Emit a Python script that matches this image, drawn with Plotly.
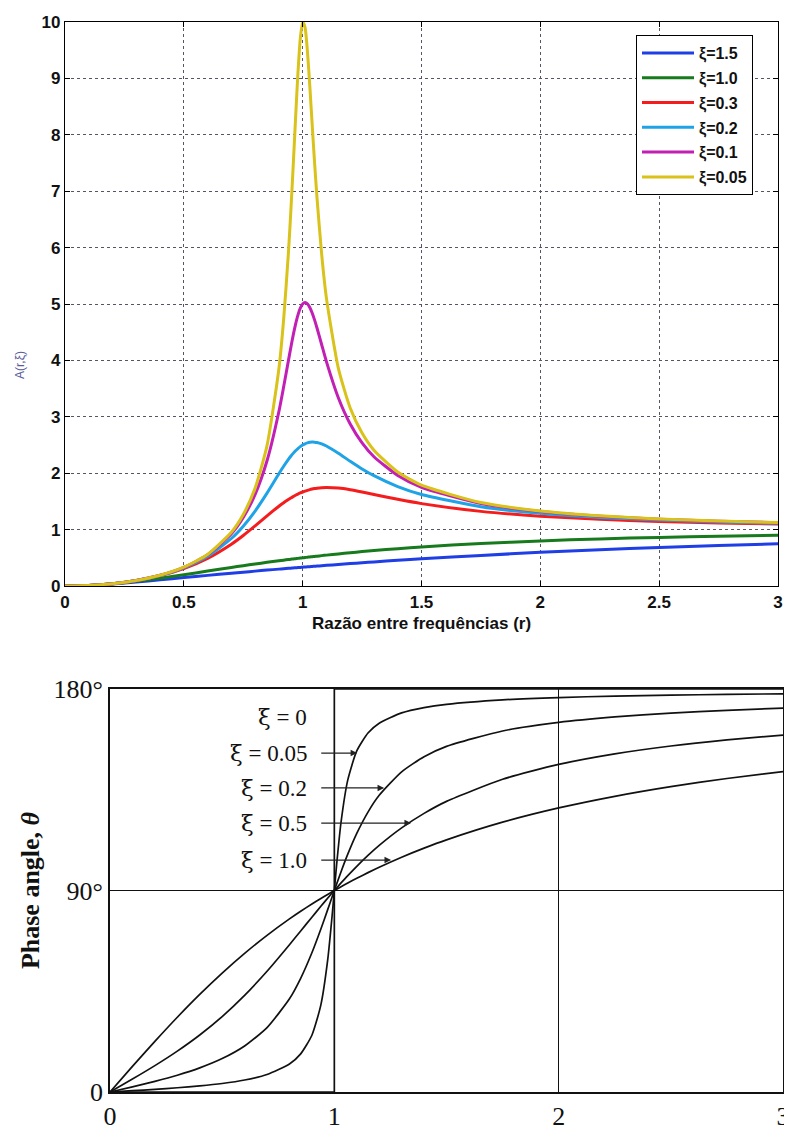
import plotly.graph_objects as go

# ---------------- Top chart data: amplitude A(r, xi) ----------------
R_AMP = [0, 0.1, 0.2, 0.3, 0.4, 0.5, 0.6, 0.7, 0.75, 0.8, 0.85, 0.9, 0.92, 0.94, 0.95,
         0.96, 0.97, 0.98, 0.99, 1.0, 1.01, 1.02, 1.03, 1.04, 1.05, 1.06, 1.08, 1.1,
         1.15, 1.2, 1.25, 1.3, 1.4, 1.5, 1.75, 2.0, 2.25, 2.5, 2.75, 3.0]

A_15 = [0, 0.0097, 0.0353, 0.0703, 0.1092, 0.1491, 0.1884, 0.2267, 0.2454, 0.2637, 0.2817,
        0.2993, 0.3062, 0.3131, 0.3165, 0.3199, 0.3233, 0.3266, 0.3300, 0.3333, 0.3367,
        0.3400, 0.3433, 0.3465, 0.3498, 0.3531, 0.3595, 0.3659, 0.3817, 0.3970, 0.4121,
        0.4267, 0.4549, 0.4818, 0.5429, 0.5963, 0.6426, 0.6827, 0.7174, 0.7474]
A_10 = [0, 0.0099, 0.0385, 0.0826, 0.1379, 0.2000, 0.2647, 0.3289, 0.3600, 0.3902, 0.4194,
        0.4475, 0.4584, 0.4691, 0.4744, 0.4796, 0.4848, 0.4899, 0.4950, 0.5000, 0.5050,
        0.5099, 0.5148, 0.5196, 0.5244, 0.5291, 0.5384, 0.5475, 0.5694, 0.5902, 0.6098,
        0.6283, 0.6622, 0.6923, 0.7538, 0.8000, 0.8351, 0.8621, 0.8832, 0.9000]
A_03 = [0, 0.0101, 0.0413, 0.0970, 0.1832, 0.3095, 0.4903, 0.7417, 0.8962, 1.0667, 1.2444,
        1.4150, 1.4772, 1.5343, 1.5607, 1.5854, 1.6084, 1.6296, 1.6491, 1.6667, 1.6824,
        1.6963, 1.7084, 1.7187, 1.7273, 1.7342, 1.7435, 1.7470, 1.7364, 1.7066, 1.6667,
        1.6228, 1.5365, 1.4608, 1.3233, 1.2380, 1.1826, 1.1447, 1.1176, 1.0976]
A_02 = [0, 0.0101, 0.0415, 0.0981, 0.1871, 0.3221, 0.5267, 0.8422, 1.0604, 1.3287, 1.6462,
        1.9899, 2.1225, 2.2449, 2.3005, 2.3515, 2.3973, 2.4376, 2.4719, 2.5000, 2.5219,
        2.5376, 2.5473, 2.5514, 2.5501, 2.5441, 2.5196, 2.4818, 2.3541, 2.2115, 2.0761,
        1.9560, 1.7635, 1.6228, 1.4061, 1.2883, 1.2167, 1.1695, 1.1365, 1.1126]
A_01 = [0, 0.0101, 0.0416, 0.0987, 0.1896, 0.3304, 0.5529, 0.9265, 1.2162, 1.6246, 2.2201,
        3.0948, 3.5313, 3.9960, 4.2260, 4.4438, 4.6396, 4.8030, 4.9251, 5.0000, 5.0251,
        5.0029, 4.9387, 4.8407, 4.7180, 4.5787, 4.2779, 3.9784, 3.3386, 2.8731, 2.5384,
        2.2920, 1.9600, 1.7503, 1.4639, 1.3216, 1.2386, 1.1851, 1.1484, 1.1219]
A_005 = [0, 0.0101, 0.0417, 0.0989, 0.1903, 0.3326, 0.5600, 0.9519, 1.2672, 1.7355, 2.4894,
         3.8527, 4.7273, 5.9056, 6.6297, 7.4353, 8.2833, 9.0861, 9.7059, 10.0000, 9.9058,
         9.4832, 8.8660, 8.1822, 7.5133, 6.9004, 5.8796, 5.1040, 3.8624, 3.1574, 2.7116,
         2.4069, 2.0203, 1.7872, 1.4795, 1.3304, 1.2442, 1.1891, 1.1514, 1.1242]

AMP_NAMES = ["ξ=1.5", "ξ=1.0", "ξ=0.3", "ξ=0.2", "ξ=0.1", "ξ=0.05"]
AMP_SERIES = [A_15, A_10, A_03, A_02, A_01, A_005]
AMP_COLORS = ["#1f3ee6", "#177a1d", "#f41c1c", "#1ea3e6", "#c21fb4", "#d9c21a"]

X_TICKS_TOP = [0, 0.5, 1, 1.5, 2, 2.5, 3]
X_TICKTEXT_TOP = ["0", "0.5", "1", "1.5", "2", "2.5", "3"]
Y_TICKS_TOP = [0, 1, 2, 3, 4, 5, 6, 7, 8, 9, 10]

# ---------------- Bottom chart data: phase angle theta (deg) ----------------
R_PH = [0, 0.1, 0.2, 0.3, 0.4, 0.5, 0.6, 0.7, 0.8, 0.85, 0.9, 0.94, 0.97, 0.99, 1.0,
        1.01, 1.03, 1.06, 1.1, 1.15, 1.2, 1.3, 1.4, 1.5, 1.75, 2.0, 2.25, 2.5, 2.75, 3.0]
P_005 = [0, 0.58, 1.19, 1.89, 2.73, 3.81, 5.36, 7.82, 12.53, 17.03, 25.35, 38.92, 58.65,
         78.63, 90.0, 101.26, 120.59, 139.39, 152.35, 160.37, 164.74, 169.33, 171.70,
         173.16, 175.15, 176.19, 176.83, 177.27, 177.60, 177.85]
P_02 = [0, 2.31, 4.76, 7.51, 10.78, 14.93, 20.56, 28.77, 41.63, 50.77, 62.18, 72.80, 81.34,
        87.12, 90.0, 92.85, 98.41, 106.25, 115.51, 125.03, 132.51, 143.00, 149.74, 154.36,
        161.26, 165.07, 167.51, 169.22, 170.48, 171.47]
P_05 = [0, 5.77, 11.77, 18.25, 25.46, 33.69, 43.15, 53.92, 65.77, 71.92, 78.08, 82.94, 86.51,
        88.85, 90.0, 91.14, 93.38, 96.65, 100.81, 105.67, 110.14, 117.96, 124.44, 129.81,
        139.69, 146.31, 151.02, 154.54, 157.26, 159.44]
P_10 = [0, 11.42, 22.62, 33.40, 43.60, 53.13, 61.93, 69.98, 77.32, 80.73, 83.97, 86.46, 88.26,
        89.42, 90.0, 90.57, 91.69, 93.34, 95.45, 97.98, 100.39, 104.86, 108.92, 112.62,
        120.51, 126.87, 132.07, 136.40, 140.03, 143.13]
R_STEP = [0, 1, 1, 3]
P_0 = [0, 0, 180, 180]

PHASE_VALUES = ["0", "0.05", "0.2", "0.5", "1.0"]
LABEL_Y = [167.5, 151.4, 135.8, 120.1, 103.6]
ARROW_HEAD_X = [None, 1.102, 1.222, 1.342, 1.253]

X_TICKS_BOT = [0, 1, 2, 3]
Y_TICKS_BOT = [0, 90, 180]
Y_TICKTEXT_BOT = ["0", "90°", "180°"]

# ---------------- Figure ----------------
# The page body has an 8px margin, so the figure is 784x1138 and sits at (8, 8).
W, H = 784, 1138
OFF = 8


def fx(px):
    return (px - OFF) / W


def fy(py):
    return (H + OFF - py) / H


fig = go.Figure()

for name, ys, color in zip(AMP_NAMES, AMP_SERIES, AMP_COLORS):
    fig.add_trace(go.Scatter(
        x=R_AMP, y=ys, mode="lines", name=name, legendgroup=name,
        line=dict(color=color, width=3, shape="spline", smoothing=0.6),
        xaxis="x", yaxis="y"))

for ys in [P_005, P_02, P_05, P_10]:
    fig.add_trace(go.Scatter(
        x=R_PH, y=ys, mode="lines", showlegend=False,
        line=dict(color="#111111", width=1.7, shape="spline", smoothing=0.6),
        xaxis="x2", yaxis="y2"))
fig.add_trace(go.Scatter(
    x=R_STEP, y=P_0, mode="lines", showlegend=False,
    line=dict(color="#111111", width=1.7), xaxis="x2", yaxis="y2"))

SERIF = "Liberation Serif"
XI = "<span style=\"font-family:'DejaVu Serif'\">ξ</span>"
annotations = []
for val, y, hx in zip(PHASE_VALUES, LABEL_Y, ARROW_HEAD_X):
    annotations.append(dict(
        x=0.885, y=y, xref="x2", yref="y2", text=XI + " = " + val, showarrow=False,
        xanchor="right", yanchor="middle",
        font=dict(family=SERIF, size=23, color="#111111")))
    if hx is not None:
        annotations.append(dict(
            x=hx, y=y, xref="x2", yref="y2", ax=0.935, ay=y, axref="x2", ayref="y2",
            text="", showarrow=True, arrowhead=2, arrowsize=1.1, arrowwidth=1.2,
            arrowcolor="#222222"))

# y-axis title of top chart (placed like the original, below centre)
annotations.append(dict(
    x=fx(20), y=fy(365), xref="paper", yref="paper", text="A(r,ξ)",
    textangle=-90, showarrow=False, xanchor="center", yanchor="middle",
    font=dict(family="Liberation Sans", size=12, color="#5a5a9e")))

top_font = dict(family="Liberation Sans", size=17, color="#111111", weight="bold")
fig.update_layout(
    width=W, height=H, autosize=False,
    margin=dict(l=0, r=0, t=0, b=0),
    paper_bgcolor="white", plot_bgcolor="white",
    showlegend=True,
    legend=dict(x=fx(636), y=fy(35), xanchor="left", yanchor="top",
                bgcolor="white", bordercolor="black", borderwidth=1,
                font=dict(family="Liberation Sans", size=16, color="#111111", weight="bold"),
                traceorder="grouped", tracegroupgap=1, itemwidth=52),
    xaxis=dict(domain=[fx(65), fx(778)], range=[0, 3], tickvals=X_TICKS_TOP,
               ticktext=X_TICKTEXT_TOP, ticks="inside", ticklen=5, tickcolor="black",
               showline=True, linecolor="black", linewidth=1.3, mirror="ticks",
               showgrid=True, gridcolor="#555566", griddash="dot", gridwidth=1,
               zeroline=False, tickfont=top_font, anchor="y", automargin=False,
               title=dict(text="Razão entre frequências (r)", font=top_font, standoff=6)),
    yaxis=dict(domain=[fy(586), fy(22)], range=[0, 10], tickvals=Y_TICKS_TOP,
               ticks="inside", ticklen=5, tickcolor="black",
               showline=True, linecolor="black", linewidth=1.3, mirror="ticks",
               showgrid=True, gridcolor="#555566", griddash="dot", gridwidth=1,
               zeroline=False, tickfont=top_font, anchor="x", automargin=False),
    xaxis2=dict(domain=[fx(110), fx(783)], range=[0, 3], tickvals=X_TICKS_BOT, ticks="",
                showline=True, linecolor="#111111", linewidth=1.6, mirror=True,
                showgrid=True, gridcolor="#111111", gridwidth=1.3, zeroline=False,
                tickfont=dict(family=SERIF, size=26, color="#111111"), anchor="y2",
                automargin=False),
    yaxis2=dict(domain=[fy(1092), fy(689)], range=[0, 180], tickvals=Y_TICKS_BOT,
                ticktext=Y_TICKTEXT_BOT, ticks="",
                showline=True, linecolor="#111111", linewidth=1.6, mirror=True,
                showgrid=True, gridcolor="#111111", gridwidth=1.3, zeroline=False,
                tickfont=dict(family=SERIF, size=26, color="#111111"), anchor="x2",
                automargin=False,
                title=dict(text="Phase angle, <i>θ</i>",
                           font=dict(family=SERIF, size=26, color="#111111", weight="bold"),
                           standoff=6)),
    annotations=annotations,
)

fig.write_html("out.html")
